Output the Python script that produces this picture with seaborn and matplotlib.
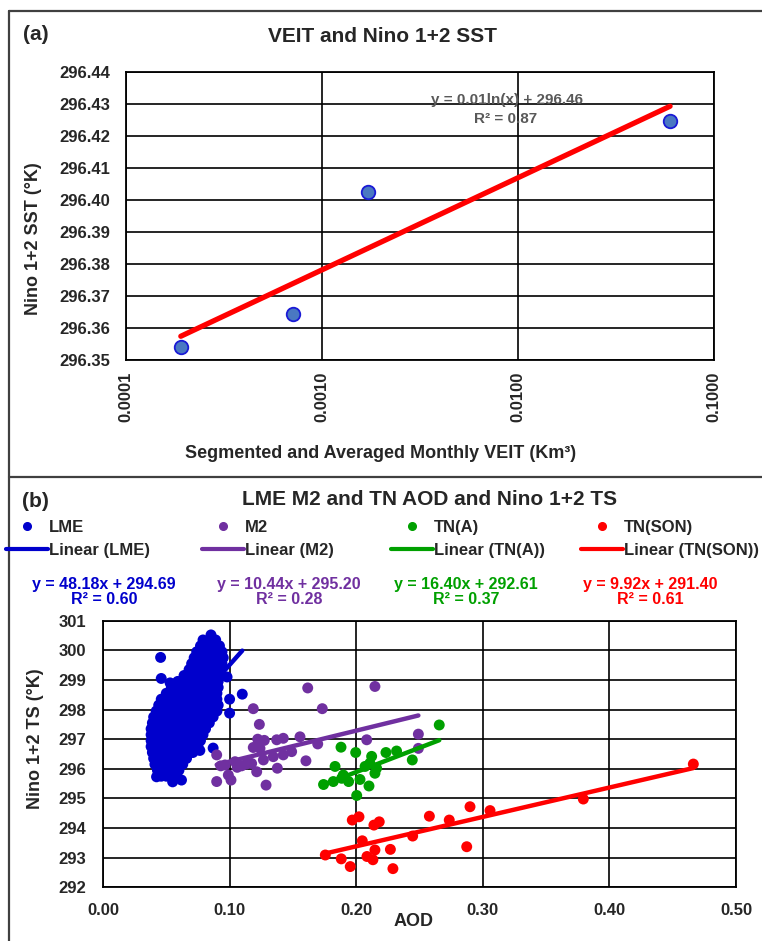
import numpy as np
import pandas as pd
import matplotlib
matplotlib.use("Agg")
import matplotlib.pyplot as plt
import seaborn as sns
from matplotlib.lines import Line2D
from matplotlib.ticker import NullLocator

# ---------------- data: panel (a) ----------------
veit = [0.000191, 0.000710, 0.001717, 0.0597]
sst = [296.3539, 296.3641, 296.4023, 296.4248]
a_xticks = [0.0001, 0.001, 0.01, 0.1]
a_xticklabels = ["0.0001", "0.0010", "0.0100", "0.1000"]
a_yticks = [296.35, 296.36, 296.37, 296.38, 296.39, 296.40, 296.41, 296.42, 296.43, 296.44]

# ---------------- data: panel (b) ----------------
# LME: dense cloud read row by row (y level, x positions)
lme_rows = [
    (300.35, [0.079, 0.084, 0.089]),
    (300.15, [0.077, 0.082, 0.087, 0.092]),
    (299.95, [0.074, 0.079, 0.084, 0.089, 0.094]),
    (299.75, [0.072, 0.077, 0.082, 0.087, 0.092, 0.095]),
    (299.55, [0.070, 0.075, 0.080, 0.085, 0.090, 0.094]),
    (299.35, [0.068, 0.073, 0.078, 0.083, 0.088, 0.092]),
    (299.15, [0.064, 0.069, 0.074, 0.079, 0.084, 0.089, 0.091]),
    (298.95, [0.059, 0.064, 0.069, 0.074, 0.079, 0.084, 0.089, 0.091]),
    (298.75, [0.054, 0.059, 0.064, 0.069, 0.074, 0.079, 0.084, 0.089, 0.091]),
    (298.55, [0.050, 0.055, 0.060, 0.065, 0.070, 0.075, 0.080, 0.085, 0.090]),
    (298.35, [0.046, 0.051, 0.056, 0.061, 0.066, 0.071, 0.076, 0.081, 0.086, 0.090]),
    (298.15, [0.044, 0.049, 0.054, 0.059, 0.064, 0.069, 0.074, 0.079, 0.084, 0.089, 0.091]),
    (297.95, [0.042, 0.047, 0.052, 0.057, 0.062, 0.067, 0.072, 0.077, 0.082, 0.087, 0.090]),
    (297.75, [0.040, 0.045, 0.050, 0.055, 0.060, 0.065, 0.070, 0.075, 0.080, 0.085, 0.087]),
    (297.55, [0.039, 0.044, 0.049, 0.054, 0.059, 0.064, 0.069, 0.074, 0.079, 0.084]),
    (297.35, [0.038, 0.043, 0.048, 0.053, 0.058, 0.063, 0.068, 0.073, 0.078, 0.081]),
    (297.15, [0.038, 0.043, 0.048, 0.053, 0.058, 0.063, 0.068, 0.073, 0.079]),
    (296.95, [0.038, 0.043, 0.048, 0.053, 0.058, 0.063, 0.068, 0.073, 0.077]),
    (296.75, [0.038, 0.043, 0.048, 0.053, 0.058, 0.063, 0.068, 0.073, 0.075]),
    (296.55, [0.039, 0.044, 0.049, 0.054, 0.059, 0.064, 0.069, 0.071]),
    (296.35, [0.040, 0.045, 0.050, 0.055, 0.060, 0.065, 0.066]),
    (296.15, [0.041, 0.046, 0.051, 0.056, 0.061, 0.063]),
    (295.95, [0.043, 0.048, 0.053, 0.058, 0.060]),
    (295.75, [0.046, 0.050, 0.054, 0.058]),
]
lme_extra_x = [0.0853, 0.0455, 0.046, 0.053, 0.110, 0.100, 0.100, 0.087, 0.0765, 0.055, 0.062, 0.0423, 0.098]
lme_extra_y = [300.52, 299.76, 299.05, 298.90, 298.52, 298.35, 297.88, 296.70, 296.62, 295.56, 295.62, 295.73, 299.10]

m2_x = [0.1617, 0.2148, 0.1187, 0.1732, 0.1235, 0.2491, 0.2083, 0.1222, 0.1274, 0.1372,
        0.1424, 0.1556, 0.1696, 0.2491, 0.1187, 0.0898, 0.0964, 0.1043, 0.1095, 0.1174,
        0.1214, 0.1345, 0.1424, 0.1490, 0.1377, 0.1603, 0.0898, 0.1011, 0.1288, 0.0990,
        0.1240, 0.1267, 0.1132, 0.0930, 0.1060]
m2_y = [298.73, 298.78, 298.03, 298.03, 297.50, 297.17, 296.98, 297.00, 296.96, 296.98,
        297.03, 297.08, 296.84, 296.69, 296.72, 296.47, 296.13, 296.24, 296.10, 296.18,
        295.90, 296.41, 296.47, 296.58, 296.02, 296.27, 295.57, 295.62, 295.45, 295.79,
        296.69, 296.30, 296.16, 296.10, 296.05]

tna_x = [0.1880, 0.1996, 0.1833, 0.1742, 0.1819, 0.1898, 0.1885, 0.1940, 0.2004, 0.2030,
         0.2101, 0.2122, 0.2108, 0.2161, 0.2148, 0.2235, 0.2319, 0.2443, 0.2656, 0.2070]
tna_y = [296.73, 296.55, 296.08, 295.47, 295.57, 295.79, 295.68, 295.57, 295.10, 295.64,
         295.42, 296.42, 296.19, 296.02, 295.85, 296.55, 296.60, 296.30, 297.48, 296.08]

tns_x = [0.1969, 0.2022, 0.2140, 0.2182, 0.2578, 0.2735, 0.2446, 0.2048, 0.2148, 0.2270,
         0.1756, 0.1882, 0.1953, 0.2085, 0.2132, 0.2290, 0.2899, 0.3057, 0.3794, 0.4663, 0.2873]
tns_y = [294.27, 294.38, 294.10, 294.21, 294.40, 294.27, 293.73, 293.57, 293.26, 293.28,
         293.09, 292.96, 292.70, 293.04, 292.93, 292.63, 294.72, 294.59, 294.98, 296.16, 293.37]

series_names = ["LME", "M2", "TN(A)", "TN(SON)"]
series_colors = ["#0000CC", "#7030A0", "#00A000", "#FF0000"]
slopes = [48.18, 10.44, 16.40, 9.92]
intercepts = [294.69, 295.20, 292.61, 291.40]
eq_texts = ["y = 48.18x + 294.69", "y = 10.44x + 295.20", "y = 16.40x + 292.61", "y = 9.92x + 291.40"]
r2_texts = ["R² = 0.60", "R² = 0.28", "R² = 0.37", "R² = 0.61"]
b_xticks = [0.0, 0.1, 0.2, 0.3, 0.4, 0.5]
b_yticks = [292, 293, 294, 295, 296, 297, 298, 299, 300, 301]

# ---------------- styling ----------------
sns.set_style("white")
plt.rcParams["font.family"] = ["Liberation Sans", "DejaVu Sans"]
plt.rcParams["font.weight"] = "bold"
plt.rcParams["axes.labelweight"] = "bold"

W, H = 762, 941
fig = plt.figure(figsize=(W / 100, H / 100), dpi=100)


def fx(px):
    return px / W


def fy(py):
    return 1 - py / H


def style_axes(ax):
    ax.set_axisbelow(True)
    ax.grid(True, which="major", color="black", lw=1.2)
    for s in ax.spines.values():
        s.set_visible(True)
        s.set_color("black")
        s.set_linewidth(1.3)
    ax.set_xlabel("")
    ax.set_ylabel("")


# ---------------- panel (a) ----------------
axA = fig.add_axes([fx(125.7), fy(359.5), (714 - 125.7) / W, (359.5 - 72) / H])
dfA = pd.DataFrame({"veit": veit, "sst": sst})
coef = np.polyfit(np.log(dfA["veit"]), dfA["sst"], 1)
xs = np.geomspace(dfA["veit"].min(), dfA["veit"].max(), 60)
sns.lineplot(x=xs, y=coef[0] * np.log(xs) + coef[1], ax=axA, color="#FF0000", lw=3.8,
             zorder=3, solid_capstyle="round")
sns.scatterplot(data=dfA, x="veit", y="sst", ax=axA, s=95, color="#4A78C2",
                edgecolor="#1A1AD6", linewidth=1.3, zorder=4)
axA.set_xscale("log")
axA.set_xlim(a_xticks[0], a_xticks[-1])
axA.set_ylim(a_yticks[0], a_yticks[-1])
axA.set_xticks(a_xticks)
axA.set_xticklabels(a_xticklabels, rotation=90)
axA.xaxis.set_minor_locator(NullLocator())
axA.set_yticks(a_yticks)
axA.set_yticklabels([f"{v:.2f}" for v in a_yticks])
style_axes(axA)
axA.tick_params(axis="both", length=0, labelsize=12)
axA.tick_params(axis="y", pad=11)
axA.tick_params(axis="x", pad=9)

fig.text(fx(23), fy(35), "(a)", ha="left", va="center", fontsize=15, fontweight="bold")
fig.text(fx(383), fy(37), "VEIT and Nino 1+2 SST", ha="center", va="center", fontsize=15, fontweight="bold")
fig.text(fx(34), fy(239), "Nino 1+2 SST (°K)", ha="center", va="center", rotation=90,
         fontsize=13, fontweight="bold")
fig.text(fx(381), fy(453), "Segmented and Averaged Monthly VEIT (Km³)", ha="center", va="center",
         fontsize=13, fontweight="bold")
fig.text(fx(507), fy(100), "y = 0.01ln(x) + 296.46", ha="center", va="center", fontsize=11,
         fontweight="bold", color="#595959")
fig.text(fx(506), fy(119), "R² = 0.87", ha="center", va="center", fontsize=11,
         fontweight="bold", color="#595959")

# ---------------- panel (b) ----------------
axB = fig.add_axes([fx(103), fy(887.3), (736 - 103) / W, (887.3 - 620.7) / H])

lme_x = [x for _, row in lme_rows for x in row] + lme_extra_x
lme_y = [y for y, row in lme_rows for _ in row] + lme_extra_y

frames = []
for name, xv, yv in zip(series_names, [lme_x, m2_x, tna_x, tns_x], [lme_y, m2_y, tna_y, tns_y]):
    frames.append(pd.DataFrame({"AOD": xv, "TS": yv, "series": name}))
dfB = pd.concat(frames, ignore_index=True)
palette = dict(zip(series_names, series_colors))

sns.scatterplot(data=dfB, x="AOD", y="TS", hue="series", palette=palette, s=62,
                linewidth=0, ax=axB, legend=False, zorder=3)
for name, col, m, b in zip(series_names, series_colors, slopes, intercepts):
    sub = dfB[dfB["series"] == name]
    xe = np.array([sub["AOD"].min(), sub["AOD"].max()])
    sns.lineplot(x=xe, y=m * xe + b, ax=axB, color=col, lw=3.2, zorder=4,
                 solid_capstyle="round")

axB.set_xlim(b_xticks[0], b_xticks[-1])
axB.set_ylim(b_yticks[0], b_yticks[-1])
axB.set_xticks(b_xticks)
axB.set_xticklabels([f"{v:.2f}" for v in b_xticks])
axB.set_yticks(b_yticks)
axB.set_yticklabels([str(v) for v in b_yticks])
style_axes(axB)
axB.tick_params(axis="both", length=0, labelsize=12)
axB.tick_params(axis="y", pad=12)
axB.tick_params(axis="x", pad=11)

fig.text(fx(22), fy(502), "(b)", ha="left", va="center", fontsize=15, fontweight="bold")
fig.text(fx(430), fy(500), "LME M2 and TN AOD and Nino 1+2 TS", ha="center", va="center",
         fontsize=15, fontweight="bold")
fig.text(fx(36), fy(739), "Nino 1+2 TS (°K)", ha="center", va="center", rotation=90,
         fontsize=13, fontweight="bold")
fig.text(fx(414), fy(921), "AOD", ha="center", va="center", fontsize=13, fontweight="bold")

# legends (one small legend per series: marker row + trendline row)
leg_left = [6, 202, 391, 581]
eq_centers = [104, 289, 466, 650]
for name, col, lx, ex, eq, r2 in zip(series_names, series_colors, leg_left, eq_centers, eq_texts, r2_texts):
    h1 = Line2D([], [], marker="o", linestyle="none", color=col, markersize=5.5)
    h2 = Line2D([], [], color=col, lw=3.0)
    fig.legend(handles=[h1, h2], labels=[name, f"Linear ({name})"], loc="upper left",
               bbox_to_anchor=(fx(lx), fy(520)), frameon=False, fontsize=12,
               handlelength=2.5, handletextpad=0.1, labelspacing=0.45,
               borderpad=0, borderaxespad=0)
    fig.text(fx(ex), fy(584), eq, ha="center", va="center", fontsize=11.5, fontweight="bold", color=col)
    fig.text(fx(ex), fy(600), r2, ha="center", va="center", fontsize=11.5, fontweight="bold", color=col)

# chart-area borders
for xs_, ys_ in [([fx(9), fx(9)], [fy(11), 0]),
                 ([fx(9), 1], [fy(11), fy(11)]),
                 ([fx(9), 1], [fy(477), fy(477)])]:
    fig.add_artist(Line2D(xs_, ys_, color="#404040", lw=1.6, transform=fig.transFigure))

fig.savefig("out.png", dpi=100)
